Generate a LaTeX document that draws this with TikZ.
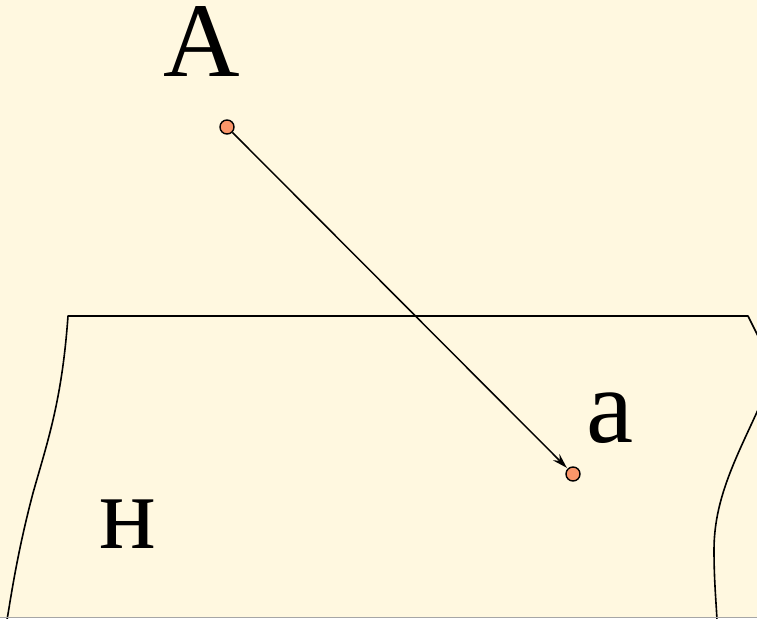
\documentclass[tikz,border=0pt]{standalone}
\usepackage{fontspec}
\setmainfont{Liberation Serif}
\usetikzlibrary{arrows.meta}
\definecolor{bgcream}{RGB}{255,248,224}
\definecolor{ptfill}{RGB}{250,150,105}
\tikzset{
  pt/.style={circle,draw=black,fill=ptfill,line width=1.4pt,minimum size=14pt,inner sep=0pt},
  lbl/.style={anchor=base,inner sep=0pt,font=\fontsize{106}{106}\selectfont},
  edge/.style={line width=1.6pt,line cap=round,line join=round}
}
\begin{document}
\begin{tikzpicture}[x=1pt,y=-1pt]
\useasboundingbox (0,0) rectangle (757,618);
\fill[bgcream] (0,0) rectangle (757,618);
\begin{scope}
\clip (0,0) rectangle (757,618);
\draw[edge] (7,620) .. controls (12,590) and (18,550) .. (33,493)
  .. controls (48,440) and (62,400) .. (68,316) -- (748,316)
  -- (770,360) .. controls (775,380) and (765,395) .. (757,412)
  .. controls (735,460) and (714,500) .. (714,550)
  .. controls (714,580) and (716,600) .. (717,620);
\draw[gray!70,line width=1pt] (0,617.5) -- (757,617.5);
\end{scope}
\node[pt] (A) at (227,127) {};
\node[pt] (a) at (573,474) {};
\draw[line width=1.5pt,shorten >=1pt,-{Stealth[length=15pt,width=9pt]}] (A) -- (a);
\node[lbl] (lA) at (202,77) {А};
\node[lbl] (la) at (610,442) {a};
\node[lbl] (lH) at (128,548) {н};
\end{tikzpicture}
\end{document}
